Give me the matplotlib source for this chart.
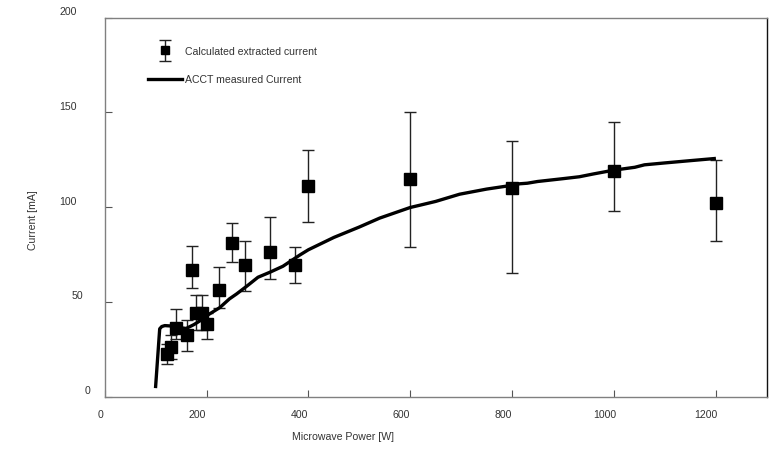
import matplotlib
matplotlib.use("Agg")
import matplotlib.pyplot as plt
import matplotlib.transforms as mtransforms
from matplotlib.container import ErrorbarContainer
from matplotlib.legend_handler import HandlerErrorbar
import numpy as np

plt.rcParams['font.family'] = ['Liberation Sans', 'DejaVu Sans']

# ---- data -------------------------------------------------------------
power_pts = [122, 131, 140, 161, 171, 179, 191, 200, 225, 250, 275, 325, 373, 400, 600, 800, 1000, 1200]
current_pts = [22.6, 26.1, 36.3, 32.3, 66.8, 44.0, 44.0, 38.4, 56.5, 80.9, 69.6, 76.3, 69.6, 111, 115, 110, 119, 102]
err_low = [17.4, 20.0, 30.5, 23.9, 57.2, 35.0, 35.0, 30.5, 47.0, 70.9, 56.0, 62.0, 59.8, 92, 79, 65, 98, 82]
err_high = [28.0, 32.8, 46.0, 40.7, 79.6, 53.7, 53.7, 44.0, 68.6, 91.7, 82.0, 94.7, 79.0, 130, 150, 135, 145, 125]

acct_power = [100, 108, 112, 118, 130, 145, 160, 175, 187, 205, 226, 245, 259, 280, 301, 324, 350, 383, 400,
              450, 500, 540, 600, 619, 650, 697, 750, 800, 815, 830, 850, 900, 932, 960, 1000, 1041, 1060,
              1100, 1150, 1197]
acct_current = [5.4, 35.8, 37.0, 37.5, 37.3, 36.5, 36.0, 38.0, 40.0, 43.5, 47.0, 51.6, 54.2, 58.5, 63.0, 65.6,
                68.8, 74.7, 77.5, 84.0, 89.5, 94.2, 99.8, 101.0, 103.0, 106.8, 109.5, 111.5, 112.3, 112.6,
                113.5, 115.0, 116.0, 117.5, 119.5, 121.0, 122.3, 123.3, 124.5, 125.6]

x_ticks = [0, 200, 400, 600, 800, 1000, 1200]
y_ticks = [0, 50, 100, 150, 200]
x_tick_labels = ['0', '200', '400', '600', '800', '1000', '1200']
y_tick_labels = ['0', '50', '100', '150', '200']

# ---- figure -----------------------------------------------------------
fig = plt.figure(figsize=(7.74, 4.52), dpi=100)
W, H = 774, 452
left, right, bottom, top = 104.7, 766.7, 397.7, 18.5
ax = fig.add_axes([left / W, (H - bottom) / H, (right - left) / W, (bottom - top) / H])
ax.set_xlim(0, 1300)
ax.set_ylim(0, 200)

y = np.array(current_pts)
yerr = [y - np.array(err_low), np.array(err_high) - y]
eb = ax.errorbar(power_pts, current_pts, yerr=yerr, fmt='s', color='black', ms=9.0,
                 ecolor='#222222', elinewidth=1.0, capsize=4.3, capthick=1.0,
                 label='Calculated extracted current', zorder=3)
ln, = ax.plot(acct_power, acct_current, color='black', lw=2.4, solid_joinstyle='round',
              label='ACCT measured Current', zorder=4)

# spines
for s in ['left', 'bottom', 'top']:
    ax.spines[s].set_color('#808080')
    ax.spines[s].set_linewidth(1.0)
ax.spines['right'].set_color('#111111')
ax.spines['right'].set_linewidth(1.0)

ax.set_xticks(x_ticks)
ax.set_yticks(y_ticks)
ax.tick_params(direction='in', length=5, width=0.8, color='#555555',
               labelbottom=False, labelleft=False)

# tick labels (as text, with the reference's offsets)
txtc = '#333333'
fs = 7.6
xoff = {0: -4, 200: -9, 400: -9, 600: -9, 800: -9, 1000: -9, 1200: -10}
for v, lab in zip(x_ticks, x_tick_labels):
    tr = mtransforms.blended_transform_factory(ax.transData, ax.transAxes) + \
        mtransforms.ScaledTranslation(xoff[v] / 100, -17 / 100, fig.dpi_scale_trans)
    ax.text(v, 0, lab, transform=tr, ha='center', va='center', fontsize=fs, color=txtc)

yoff = {0: -14.5, 50: -21.5, 100: -28, 150: -28, 200: -28}
for v, lab in zip(y_ticks, y_tick_labels):
    tr = mtransforms.blended_transform_factory(ax.transAxes, ax.transData) + \
        mtransforms.ScaledTranslation(yoff[v] / 100, 6.5 / 100, fig.dpi_scale_trans)
    ax.text(0, v, lab, transform=tr, ha='right', va='center', fontsize=fs, color=txtc)

ax.set_xlabel('Microwave Power [W]', fontsize=fs, color=txtc)
ax.xaxis.set_label_coords((343 - left) / (right - left), -(437 - bottom) / (bottom - top))
ax.xaxis.label.set_va('center')
ax.set_ylabel('Current [mA]', fontsize=fs, color=txtc)
ax.yaxis.set_label_coords((33 - left) / (right - left), (bottom - 220) / (bottom - top))
ax.yaxis.label.set_va('center')

leg = ax.legend(handles=[eb, ln], loc='upper left',
                bbox_to_anchor=((148 - left) / (right - left), (bottom - 47) / (bottom - top)),
                frameon=False, fontsize=fs, borderpad=0, borderaxespad=0,
                handlelength=3.2, handletextpad=0.3, labelspacing=1.75,
                numpoints=1, markerscale=0.6,
                handler_map={ErrorbarContainer: HandlerErrorbar(yerr_size=1.0)})
for t in leg.get_texts():
    t.set_color(txtc)

fig.savefig('out.png', dpi=100)
